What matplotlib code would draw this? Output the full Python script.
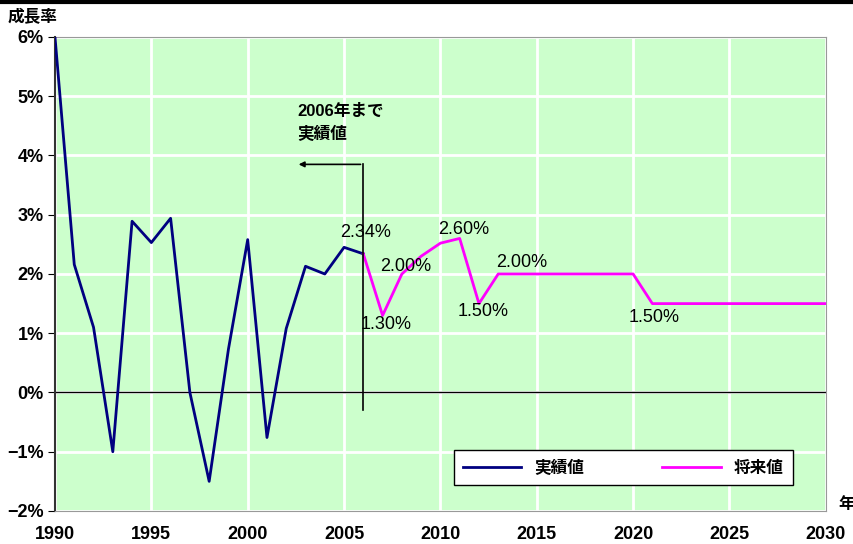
import matplotlib.pyplot as plt
import numpy as np

plt.rcParams['font.family'] = ['Liberation Sans', 'Noto Sans CJK JP']

actual_years = list(range(1990, 2007))
actual_vals = [6.0, 2.16, 1.10, -1.0, 2.89, 2.53, 2.94, 0.0, -1.5, 0.73,
               2.58, -0.76, 1.08, 2.13, 2.0, 2.45, 2.34]
future_years = list(range(2006, 2031))
future_vals = [2.34, 1.30, 2.00, 2.30, 2.52, 2.60, 1.50, 2.00, 2.00, 2.00,
               2.00, 2.00, 2.00, 2.00, 2.00, 1.50, 1.50, 1.50, 1.50, 1.50,
               1.50, 1.50, 1.50, 1.50, 1.50]
xticks = [1990, 1995, 2000, 2005, 2010, 2015, 2020, 2025, 2030]
yticks = [-2, -1, 0, 1, 2, 3, 4, 5, 6]
ylabels = ['−2%', '−1%', '0%', '1%', '2%', '3%', '4%', '5%', '6%']

# value labels: (text, x, y)
labels = [('2.34%', 2006.1, 2.7), ('1.30%', 2007.2, 1.15), ('2.00%', 2008.2, 2.13),
          ('2.60%', 2011.2, 2.75), ('1.50%', 2012.2, 1.37), ('2.00%', 2014.2, 2.19),
          ('1.50%', 2021.1, 1.27)]

fig = plt.figure(figsize=(8.54, 5.44), dpi=100)
ax = fig.add_axes([0.0644, 0.0607, 0.9026, 0.8713])
ax.set_facecolor('#CCFFCC')

ax.plot(actual_years, actual_vals, color='#000080', lw=2, label='実績値', zorder=3)
ax.plot(future_years, future_vals, color='#FF00FF', lw=2, label='将来値', zorder=3)
ax.axhline(0, color='black', lw=1, zorder=2)

ax.set_xlim(1990, 2030)
ax.set_ylim(-2, 6)
ax.set_xticks(xticks)
ax.set_yticks(yticks)
ax.set_yticklabels(ylabels)
ax.grid(True, color='white', lw=2)
ax.set_axisbelow(True)
ax.tick_params(axis='x', length=0, pad=11, labelsize=13)
ax.tick_params(axis='y', length=5, direction='out', pad=3, labelsize=13)
for t in ax.get_xticklabels() + ax.get_yticklabels():
    t.set_fontweight('bold')
for s in ['top', 'right', 'bottom']:
    ax.spines[s].set_color('#999999')
ax.spines['left'].set_color('#333333')
ax.spines['left'].set_linewidth(1.5)

for txt, x, y in labels:
    ax.text(x, y, txt, ha='center', va='center', fontsize=13)

# arrow marking the actual-data boundary
ax.plot([2006, 2006], [-0.3, 3.85], color='black', lw=1.2, zorder=4)
ax.annotate('', xy=(2002.5, 3.85), xytext=(2006, 3.85),
            arrowprops=dict(arrowstyle='-|>', color='black', lw=1.2, mutation_scale=8))
ax.text(2002.6, 4.55, '2006年まで\n実績値', fontsize=12, fontweight='bold',
        ha='left', va='center', linespacing=1.5)

leg = ax.legend(loc='lower left', bbox_to_anchor=(0.5175, 0.055, 0.44, 0.076),
                mode='expand', ncol=2, fancybox=False, edgecolor='black',
                prop={'weight': 'bold', 'size': 12}, handlelength=3.5,
                borderpad=0.55, borderaxespad=0, framealpha=1)
leg.get_frame().set_linewidth(1)

fig.text(0.009, 0.968, '成長率', fontsize=12, fontweight='bold', ha='left', va='center')
fig.text(0.982, 0.072, '年', fontsize=12, fontweight='bold', ha='left', va='center')
fig.add_artist(plt.Line2D([0, 1], [0.997, 0.997], color='black', lw=3))

fig.savefig('out.png', dpi=100)
